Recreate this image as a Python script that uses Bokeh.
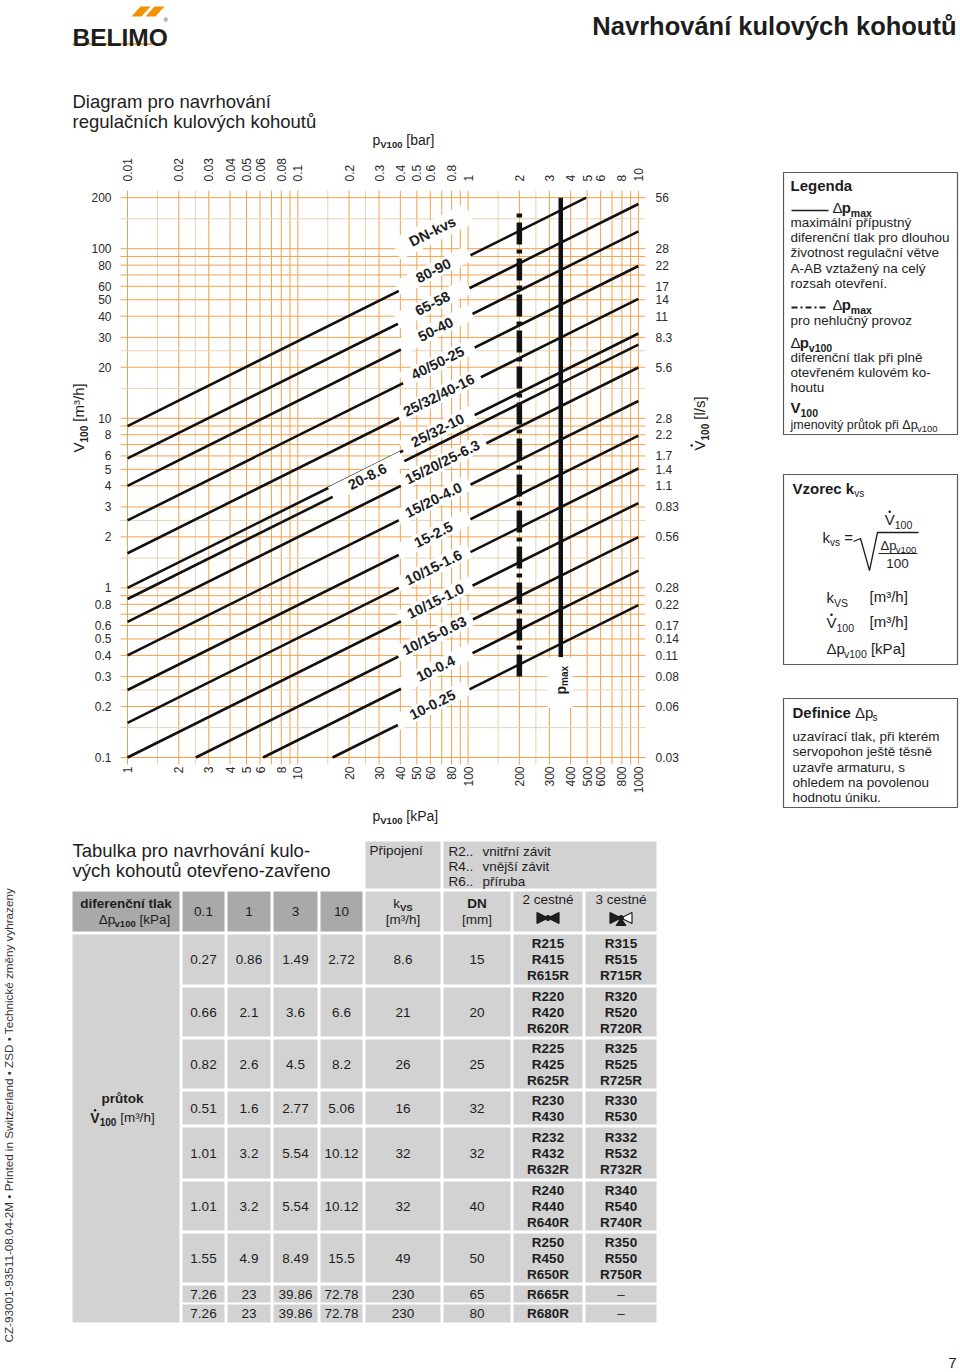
import math, unicodedata
from bokeh.plotting import figure
from bokeh.models import Range1d, LogScale, ColumnDataSource
from bokeh.core.properties import value
from bokeh.embed import file_html
from bokeh.resources import INLINE

# ======================= DATA =======================
dp_kpa_ticks = [1, 2, 3, 4, 5, 6, 8, 10, 20, 30, 40, 50, 60, 80, 100, 200, 300, 400, 500, 600, 800, 1000]
dp_bar_labels = ["0.01", "0.02", "0.03", "0.04", "0.05", "0.06", "0.08", "0.1", "0.2", "0.3", "0.4",
                 "0.5", "0.6", "0.8", "1", "2", "3", "4", "5", "6", "8", "10"]
v_ticks = [200, 100, 80, 60, 50, 40, 30, 20, 10, 8, 6, 5, 4, 3, 2, 1, 0.8, 0.6, 0.5, 0.4, 0.3, 0.2, 0.1]
v_ls_labels = ["56", "28", "22", "17", "14", "11", "8.3", "5.6", "2.8", "2.2", "1.7", "1.4", "1.1",
               "0.83", "0.56", "0.28", "0.22", "0.17", "0.14", "0.11", "0.08", "0.06", "0.03"]
grid_x_major = [1, 2, 3, 4, 5, 6, 7, 8, 9, 10, 20, 30, 40, 50, 60, 70, 80, 90,
                100, 200, 300, 400, 500, 600, 700, 800, 900, 1000]
grid_x_minor = [1.5, 2.5, 15, 25, 150, 250]
grid_y_major = [0.1, 0.2, 0.3, 0.4, 0.5, 0.6, 0.7, 0.8, 0.9, 1, 2, 3, 4, 5, 6, 7, 8, 9,
                10, 20, 30, 40, 50, 60, 70, 80, 90, 100, 200]
grid_y_minor = [0.15, 0.25, 1.5, 2.5, 15, 25, 150]
dp_range = (1, 1000)
v_range = (0.1, 200)

kvs_values = [90, 58, 40, 25, 16, 10, 8.6, 6.3, 4.0, 2.5, 1.6, 1.0, 0.63, 0.4, 0.25]
kvs_labels = ["80-90", "65-58", "50-40", "40/50-25", "25/32/40-16", "25/32-10", "20-8.6",
              "15/20/25-6.3", "15/20-4.0", "15-2.5", "10/15-1.6", "10/15-1.0", "10/15-0.63",
              "10-0.4", "10-0.25"]
label_dp = [62.6, 61.8, 64.4, 66.3, 67.3, 66.3, 25.6, 70.6, 62.6, 62.6, 62.6, 64.4, 63.5, 64.4, 61.8]

dp_max_quiet = 200
dp_max_quiet_v = (0.3, 165)
dp_max = 350
dp_max_v = (0.39, 200)

tab_dp_cols = ["0.1", "1", "3", "10"]
tab_v = [["0.27", "0.86", "1.49", "2.72"],
         ["0.66", "2.1", "3.6", "6.6"],
         ["0.82", "2.6", "4.5", "8.2"],
         ["0.51", "1.6", "2.77", "5.06"],
         ["1.01", "3.2", "5.54", "10.12"],
         ["1.01", "3.2", "5.54", "10.12"],
         ["1.55", "4.9", "8.49", "15.5"],
         ["7.26", "23", "39.86", "72.78"],
         ["7.26", "23", "39.86", "72.78"]]
tab_kvs = ["8.6", "21", "26", "16", "32", "32", "49", "230", "230"]
tab_dn = ["15", "20", "25", "32", "32", "40", "50", "65", "80"]
tab_2way = [["R215", "R415", "R615R"], ["R220", "R420", "R620R"], ["R225", "R425", "R625R"],
            ["R230", "R430"], ["R232", "R432", "R632R"], ["R240", "R440", "R640R"],
            ["R250", "R450", "R650R"], ["R665R"], ["R680R"]]
tab_3way = [["R315", "R515", "R715R"], ["R320", "R520", "R720R"], ["R325", "R525", "R725R"],
            ["R330", "R530"], ["R332", "R532", "R732R"], ["R340", "R540", "R740R"],
            ["R350", "R550", "R750R"], ["–"], ["–"]]

# ======================= LAYOUT / STYLE =======================
W, H = 960, 1372
PX_X1, PXD = 127.0, 170.3      # page x of 1 kPa, px per decade
PY_Y1, PYD = 587.4, 169.6      # page y of 1 m3/h, px per decade
INK = "#1d1d1d"
ORANGE = "#F2A24E"
BEIGE = "#E6D3B4"
LIGHT = "#d2d2d2"
DARK = "#a9a9a9"
SANS = "Liberation Sans"

_reg = ([278, 278, 355, 556, 556, 889, 667, 191, 333, 333, 389, 584, 278, 333, 278, 278] + [556] * 10 +
        [278, 278, 584, 584, 584, 556, 1015] +
        [667, 667, 722, 722, 667, 611, 778, 722, 278, 500, 667, 556, 833, 722, 778, 667, 778, 722, 667, 611,
         722, 667, 944, 667, 667, 611] + [278, 278, 278, 469, 556, 333] +
        [556, 556, 500, 556, 556, 278, 556, 556, 222, 222, 500, 222, 833, 556, 556, 556, 556, 333, 500, 278,
         556, 500, 722, 500, 500, 500] + [334, 260, 334, 584])
_bold = ([278, 333, 474, 556, 556, 889, 722, 238, 333, 333, 389, 584, 278, 333, 278, 278] + [556] * 10 +
         [333, 333, 584, 584, 584, 611, 975] +
         [722, 722, 722, 722, 667, 611, 778, 722, 278, 556, 722, 611, 833, 722, 778, 667, 778, 722, 667, 611,
          722, 667, 944, 667, 667, 611] + [333, 278, 333, 584, 556, 333] +
         [556, 611, 556, 611, 556, 333, 611, 611, 278, 278, 556, 278, 889, 611, 611, 611, 611, 389, 556, 333,
          611, 556, 778, 556, 556, 500] + [389, 280, 389, 584])
REG = {chr(32 + i): w for i, w in enumerate(_reg)}
BOLD = {chr(32 + i): w for i, w in enumerate(_bold)}
EXTRA = {"Δ": 612, "³": 333, "•": 350, "–": 556}


def measure(s, size, bold=False):
    tbl = BOLD if bold else REG
    w = 0
    for ch in s:
        if ch in tbl:
            w += tbl[ch]
        elif ch in EXTRA:
            w += EXTRA[ch]
        else:
            w += tbl.get(unicodedata.normalize("NFD", ch)[0], 556)
    return w * size / 1000.0


p = figure(width=W, height=H, x_range=Range1d(0, W), y_range=Range1d(H, 0),
           x_axis_type=None, y_axis_type=None, output_backend="svg",
           toolbar_location=None, min_border=0)
p.outline_line_color = None
p.background_fill_color = "white"
p.border_fill_color = "white"
p.extra_x_ranges = {"lx": Range1d(10 ** ((0 - PX_X1) / PXD), 10 ** ((W - PX_X1) / PXD))}
p.extra_x_scales = {"lx": LogScale()}
p.extra_y_ranges = {"ly": Range1d(10 ** ((PY_Y1 - H) / PYD), 10 ** (PY_Y1 / PYD))}
p.extra_y_scales = {"ly": LogScale()}

TEXTS = {}


def add_text(x, y, text, size, bold=False, color=INK, angle=0.0, align="left", baseline="middle",
             font=SANS, xr="default", yr="default"):
    key = (font, xr, yr)
    d = TEXTS.setdefault(key, {k: [] for k in ["x", "y", "text", "size", "style", "color", "angle",
                                                 "align", "baseline"]})
    d["x"].append(x); d["y"].append(y); d["text"].append(text)
    d["size"].append(f"{size}px"); d["style"].append("bold" if bold else "normal")
    d["color"].append(color); d["angle"].append(angle); d["align"].append(align)
    d["baseline"].append(baseline)


def rich(x, y, parts, angle=0.0, align="left", color=INK):
    """y is the visual middle of the first part; parts = (text, size, bold, baseline shift down)."""
    S = parts[0][1]
    total = sum(measure(t, s, b) for t, s, b, _ in parts)
    cur = {"left": 0.0, "center": -total / 2, "right": -total}[align]
    ax, ay = math.cos(angle), -math.sin(angle)
    dx, dy = math.sin(angle), math.cos(angle)
    pos = []
    for t, s, b, d in parts:
        stripped = t.lstrip(" ")
        cur += measure(t[:len(t) - len(stripped)], s, b)
        off = 0.35 * (S - s) + d
        px, py = x + ax * cur + dx * off, y + ay * cur + dy * off
        add_text(px, py, stripped, s, bold=b, color=color, angle=angle, baseline="middle")
        w = measure(stripped, s, b)
        pos.append((px, py, w, s))
        cur += w
    return pos


DOTS_X, DOTS_Y = [], []


def vdot(part, angle=0.0):
    px, py, w, s = part
    cx, up = w / 2, 0.52 * s
    DOTS_X.append(px + math.cos(angle) * cx - math.sin(angle) * up)
    DOTS_Y.append(py - math.sin(angle) * cx - math.cos(angle) * up)


# ======================= HEADER =======================
add_text(72, 37, "BELIMO", 24.5, bold=True, baseline="alphabetic")
add_text(163, 19, "®", 6)
p.patches(xs=[[131, 141, 150, 140], [145, 155, 164, 154]], ys=[[16, 16, 6, 6], [16, 16, 6, 6]],
          fill_color="#F39200", line_color=None)
p.segment(x0=[72], y0=[43.5], x1=[165], y1=[43.5], line_color="#F39200", line_width=1.6)
title = "Navrhování kulových kohoutů"
add_text(956, 25, title, round(364 / measure(title, 1, True), 1), bold=True, align="right")

add_text(72, 101, "Diagram pro navrhování", 18.5)
add_text(72, 121, "regulačních kulových kohoutů", 18.5)

# ======================= CHART =======================
ext_x = 10 ** (7 / PXD)
ext_y = 10 ** (7 / PYD)
for vals, col in [(grid_x_minor, BEIGE), (grid_x_major, ORANGE)]:
    p.segment(x0=vals, x1=vals, y0=[v_range[0] / ext_y] * len(vals), y1=[v_range[1] * ext_y] * len(vals),
              line_color=col, line_width=1, x_range_name="lx", y_range_name="ly")
for vals, col in [(grid_y_minor, BEIGE), (grid_y_major, ORANGE)]:
    p.segment(y0=vals, y1=vals, x0=[dp_range[0] / ext_x] * len(vals), x1=[dp_range[1] * ext_x] * len(vals),
              line_color=col, line_width=1, x_range_name="lx", y_range_name="ly")

xs, ys = [], []
for k in kvs_values:
    d0 = max(dp_range[0], 100 * (v_range[0] / k) ** 2)
    d1 = min(dp_range[1], 100 * (v_range[1] / k) ** 2)
    xs.append([d0, d1])
    ys.append([k * math.sqrt(d0 / 100), k * math.sqrt(d1 / 100)])
p.multi_line(xs=xs, ys=ys, line_color="#111111", line_width=2.6, x_range_name="lx", y_range_name="ly")

p.segment(x0=[dp_max_quiet], x1=[dp_max_quiet], y0=[dp_max_quiet_v[0]], y1=[dp_max_quiet_v[1]],
          line_color="#111111", line_width=5.5, line_dash="22 5 4 5", line_cap="butt",
          x_range_name="lx", y_range_name="ly")
p.segment(x0=[dp_max], x1=[dp_max], y0=[dp_max_v[0]], y1=[dp_max_v[1]],
          line_color="#111111", line_width=4.5, x_range_name="lx", y_range_name="ly")

theta = math.atan(0.5 * PYD / PXD)
LAB = 14.5
lift = 10 ** (3 / PYD)
lab_v = [k * math.sqrt(d / 100) * lift for k, d in zip(kvs_values, label_dp)]
box_w = [max(80, measure(t, LAB, True) + 14) for t in kvs_labels]
p.rect(x=label_dp, y=lab_v, width=box_w, height=16, angle=theta, width_units="screen",
       height_units="screen", fill_color="white", line_color=None, x_range_name="lx", y_range_name="ly")
p.rect(x=[432], y=[231], width=[82], height=[22], angle=theta, fill_color="white", line_color=None)
p.quad(left=[547], right=[572], top=[657], bottom=[707], fill_color="white", line_color=None)
for t, d, v in zip(kvs_labels, label_dp, lab_v):
    add_text(d, v, t, LAB, bold=True, angle=theta, align="center", xr="lx", yr="ly")
add_text(432, 231, "DN-kvs", LAB, bold=True, angle=theta, align="center")
rich(560, 694, [("p", 14, True, 0), ("max", 10, True, 3)], angle=math.pi / 2)

# tick labels
for v in v_ticks:
    add_text(111, v, f"{v:g}", 12, color="#2a2a2a", align="right", yr="ly")
for v, s in zip(v_ticks, v_ls_labels):
    add_text(655, v, s, 12, color="#2a2a2a", align="left", yr="ly")
for d in dp_kpa_ticks:
    add_text(d, 766, f"{d:g}", 12, color="#2a2a2a", angle=math.pi / 2, align="right", xr="lx")
for s in dp_bar_labels:
    add_text(float(s) * 100, 181, s, 12, color="#2a2a2a", angle=math.pi / 2, align="left", xr="lx")

# axis titles
rich(372, 139, [("p", 14, False, 0), ("V100", 9.5, True, 3), (" [bar]", 14, False, 0)])
rich(372, 815, [("p", 14, False, 0), ("V100", 9.5, True, 3), (" [kPa]", 14, False, 0)])
rich(78, 452, [("V", 15, False, 0), ("100", 10, True, 3.5), (" [m³/h]", 15, False, 0)], angle=math.pi / 2)
pos = rich(699, 450, [("V", 15, False, 0), ("100", 10, True, 3.5), (" [l/s]", 15, False, 0)],
           angle=math.pi / 2)
vdot(pos[0], angle=math.pi / 2)

# ======================= LEGEND BOXES =======================
p.quad(left=[783, 783, 783], right=[957, 957, 957], top=[172, 474, 698], bottom=[434, 664, 807],
       fill_color=None, line_color="#5a5a5a", line_width=1.2)
add_text(790, 185, "Legenda", 15, bold=True)
p.segment(x0=[791], x1=[828], y0=[210], y1=[210], line_color=INK, line_width=1.5)
rich(832, 207, [("Δ", 15, False, 0), ("p", 15, True, 0), ("max", 10.5, True, 3.5)])
for i, t in enumerate(["maximální přípustný", "diferenční tlak pro dlouhou", "životnost regulační větve",
                       "A-AB vztažený na celý", "rozsah otevření."]):
    add_text(790, 222 + i * 15.2, t, 13.5)
p.segment(x0=[791], x1=[828], y0=[307], y1=[307], line_color=INK, line_width=2.2, line_dash="6 3 2 3")
rich(832, 304, [("Δ", 15, False, 0), ("p", 15, True, 0), ("max", 10.5, True, 3.5)])
add_text(790, 320, "pro nehlučný provoz", 13.5)
rich(790, 342, [("Δ", 15, False, 0), ("p", 15, True, 0), ("v100", 10.5, True, 3.5)])
for i, t in enumerate(["diferenční tlak při plně", "otevřeném kulovém ko-", "houtu"]):
    add_text(790, 357 + i * 15.2, t, 13.5)
rich(790, 407, [("V", 15, True, 0), ("100", 10.5, True, 3.5)])
rich(790, 424, [("jmenovitý průtok při Δp", 12.5, False, 0), ("v100", 9.5, False, 3)])

rich(792, 488, [("Vzorec k", 15, True, 0), ("vs", 10, False, 3.5)])
rich(822, 537, [("k", 15, False, 0), ("vs", 10, False, 3.5), (" =", 15, False, 0)])
p.line(x=[853, 860, 869, 877, 918], y=[541, 538, 570, 532, 532], line_color=INK, line_width=1.3)
p.segment(x0=[878], x1=[917], y0=[553], y1=[553], line_color=INK, line_width=1.1)
pos = rich(898, 519, [("V", 15, False, 0), ("100", 10.5, False, 3.5)], align="center")
vdot(pos[0])
rich(898, 545, [("Δp", 13, False, 0), ("v100", 9.5, False, 3)], align="center")
add_text(897, 563, "100", 13.5, align="center")
rich(826, 597, [("k", 15, False, 0), ("VS", 10.5, False, 3.5)])
add_text(869, 596, "[m³/h]", 15)
pos = rich(826, 622, [("V", 15, False, 0), ("100", 10.5, False, 3.5)])
vdot(pos[0])
add_text(869, 621, "[m³/h]", 15)
rich(826, 648, [("Δp", 15, False, 0), ("v100", 10.5, False, 3.5), (" [kPa]", 15, False, 0)])

rich(792, 712, [("Definice ", 15, True, 0), ("Δp", 15, False, 0), ("s", 10, False, 3.5)])
for i, t in enumerate(["uzavírací tlak, při kterém", "servopohon ještě těsně", "uzavře armaturu, s",
                       "ohledem na povolenou", "hodnotu úniku."]):
    add_text(792, 736 + i * 15.3, t, 13.5)

# ======================= TABLE =======================
cols = [(72, 179), (182, 224), (227, 270), (273, 317), (320, 362), (365, 440), (443, 510), (513, 582), (585, 656)]
col_c = [(a + b) / 2 for a, b in cols]
hdr = (891, 931)
rows = [(934, 984), (987, 1036), (1039, 1088), (1091, 1124), (1127, 1178), (1181, 1230), (1233, 1282),
        (1285, 1302), (1304, 1322)]

L, R, T, B, C = [], [], [], [], []


def cell(l, r, t, b, c):
    L.append(l); R.append(r); T.append(t); B.append(b); C.append(c)


cell(365, 440, 841, 888, LIGHT)
cell(443, 656, 841, 888, LIGHT)
for i, (a, b) in enumerate(cols):
    cell(a, b, hdr[0], hdr[1], DARK if i < 5 else LIGHT)
cell(cols[0][0], cols[0][1], rows[0][0], rows[-1][1], LIGHT)
for (y0, y1) in rows:
    for (a, b) in cols[1:]:
        cell(a, b, y0, y1, LIGHT)
p.quad(left=L, right=R, top=T, bottom=B, fill_color=C, line_color=None)

add_text(72, 850, "Tabulka pro navrhování kulo-", 18.5)
add_text(72, 870, "vých kohoutů otevřeno-zavřeno", 18.5)
add_text(369, 850, "Připojení", 13.5)
for i, (a, b) in enumerate([("R2..", "vnitřní závit"), ("R4..", "vnější závit"), ("R6..", "příruba")]):
    add_text(448, 851 + i * 15, a, 13.5)
    add_text(482, 851 + i * 15, b, 13.5)

add_text(125.5, 903, "diferenční tlak", 13.5, bold=True, align="center")
rich(134, 919, [("Δp", 13.5, False, 0), ("v100", 9.5, True, 3), (" [kPa]", 13.5, False, 0)], align="center")
for c, s in zip(col_c[1:5], tab_dp_cols):
    add_text(c, 911, s, 13.5, align="center")
rich(col_c[5], 903, [("k", 13.5, False, 0), ("VS", 9.5, True, 3)], align="center")
add_text(col_c[5], 919, "[m³/h]", 13.5, align="center")
add_text(col_c[6], 903, "DN", 13.5, bold=True, align="center")
add_text(col_c[6], 919, "[mm]", 13.5, align="center")
add_text(col_c[7], 899, "2 cestné", 13.5, align="center")
add_text(col_c[8], 899, "3 cestné", 13.5, align="center")
# valve symbols
for cx, three in [(col_c[7], False), (col_c[8], True)]:
    p.patches(xs=[[cx - 11, cx - 11, cx], [cx + 11, cx + 11, cx]],
              ys=[[912, 923, 917.5], [912, 923, 917.5]],
              fill_color=[INK, "white" if three else INK], line_color=INK, line_width=1.2)
    if three:
        p.patches(xs=[[cx - 5, cx + 5, cx]], ys=[[925, 925, 917.5]], fill_color=INK, line_color=INK)
    p.scatter(x=[cx], y=[917.5], size=5, marker="circle", fill_color=INK, line_color=INK)

for ri, (y0, y1) in enumerate(rows):
    yc = (y0 + y1) / 2
    for j, s in enumerate(tab_v[ri]):
        add_text(col_c[1 + j], yc, s, 13.5, align="center")
    add_text(col_c[5], yc, tab_kvs[ri], 13.5, align="center")
    add_text(col_c[6], yc, tab_dn[ri], 13.5, align="center")
    for colx, codes in [(col_c[7], tab_2way[ri]), (col_c[8], tab_3way[ri])]:
        n = len(codes)
        for k, code in enumerate(codes):
            add_text(colx, yc + (k - (n - 1) / 2) * 16, code, 13.5, bold=(code != "–"), align="center")

add_text(122, 1098, "průtok", 13.5, bold=True, align="center")
pos = rich(122, 1117, [("V", 14, True, 0), ("100", 10, True, 3), (" [m³/h]", 13.5, False, 0)], align="center")
vdot(pos[0])

# ======================= FOOTER =======================
side = "CZ-93001-93511-08.04-2M • Printed in Switzerland • ZSD • Technické změny vyhrazeny"
add_text(8, 1342, side, round(457 / measure(side, 1), 2), color="#333333", angle=math.pi / 2)
add_text(952, 1362, "7", 15, align="center")

# ======================= RENDER TEXT =======================
p.scatter(x=DOTS_X, y=DOTS_Y, size=2.6, marker="circle", fill_color=INK, line_color=None)
for (font, xr, yr), d in TEXTS.items():
    src = ColumnDataSource(d)
    p.text(x="x", y="y", text="text", source=src, text_font=value(font), text_font_size="size",
           text_font_style="style", text_color="color", angle="angle", text_align="align",
           text_baseline="baseline", x_range_name=xr, y_range_name=yr)

open("out.html", "w").write(file_html(p, INLINE))
